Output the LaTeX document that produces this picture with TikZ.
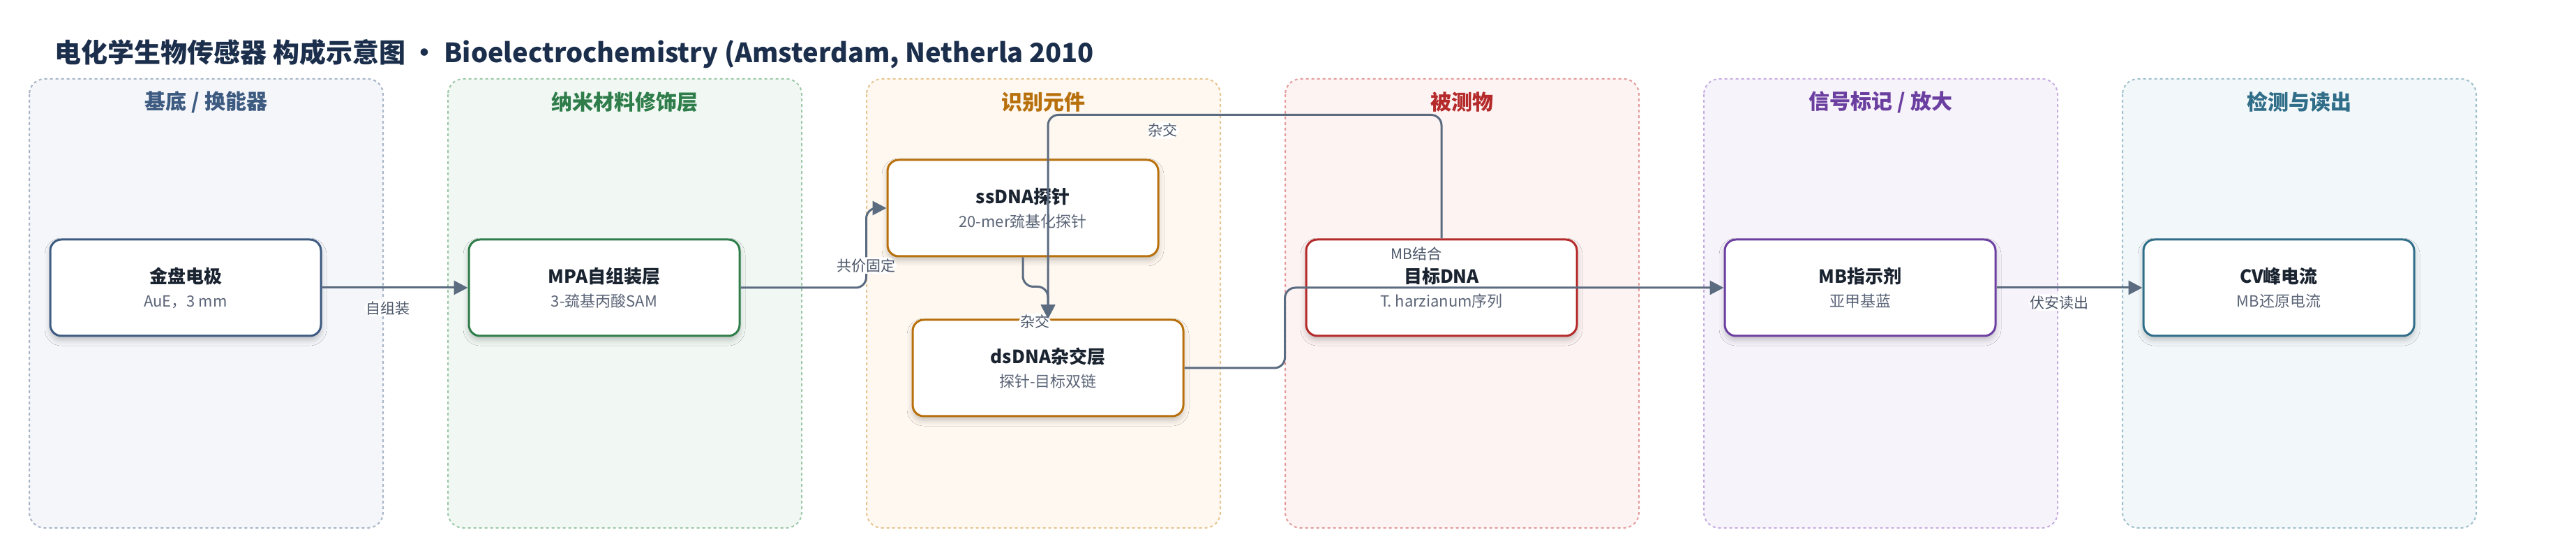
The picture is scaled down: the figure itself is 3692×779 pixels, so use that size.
\documentclass[tikz,border=0pt]{standalone}
\usepackage{fontspec}
\setmainfont{Noto Sans CJK SC}
\usepackage{xcolor}
\usetikzlibrary{arrows.meta,shadows.blur}

\definecolor{titlec}{HTML}{1B2E4B}
\definecolor{nodetext}{HTML}{1A2330}
\definecolor{subtext}{HTML}{5B6577}
\definecolor{lbltext}{HTML}{4A5568}
\definecolor{connc}{HTML}{5B6B80}
\definecolor{laneAfill}{HTML}{F4F6FA}
\definecolor{laneAline}{HTML}{A7B4C6}
\definecolor{laneAhead}{HTML}{3D5A80}
\definecolor{laneBfill}{HTML}{F1F8F3}
\definecolor{laneBline}{HTML}{9CC8A8}
\definecolor{laneBhead}{HTML}{2E7D4A}
\definecolor{laneCfill}{HTML}{FEF8F0}
\definecolor{laneCline}{HTML}{E6C48F}
\definecolor{laneChead}{HTML}{B8700C}
\definecolor{laneDfill}{HTML}{FDF3F3}
\definecolor{laneDline}{HTML}{E49A9A}
\definecolor{laneDhead}{HTML}{B52A2A}
\definecolor{laneEfill}{HTML}{F7F3FB}
\definecolor{laneEline}{HTML}{C6ADE0}
\definecolor{laneEhead}{HTML}{6B3FA0}
\definecolor{laneFfill}{HTML}{F2F7F9}
\definecolor{laneFline}{HTML}{9EC0CC}
\definecolor{laneFhead}{HTML}{2F6D88}

\begin{document}
\begin{tikzpicture}[x=0.5pt,y=-0.5pt,
  lanebox/.style={line width=1pt, dash pattern=on 2pt off 2pt, rounded corners=11pt},
  lanehead/.style={font=\fontsize{15}{18}\selectfont\bfseries},
  box/.style={draw=#1, line width=1.5pt, fill=white, rounded corners=8pt,
    minimum width=194pt, minimum height=69pt, align=center, text=nodetext,
    font=\fontsize{11}{17}\selectfont,
    blur shadow={shadow xshift=0pt, shadow yshift=-3pt, shadow blur radius=4pt, shadow opacity=22}},
  conn/.style={draw=connc, line width=1.5pt, rounded corners=7.5pt, -{Triangle[length=10pt,width=10pt]}},
  lbl/.style={fill=white, text=lbltext, inner sep=1pt, font=\fontsize{10.5}{12}\selectfont}]
\useasboundingbox (0,0) rectangle (3692,779);

\node[anchor=west, inner sep=0pt, text=titlec, font=\fontsize{19}{22}\selectfont\bfseries] (title) at (78,77)
  {电化学生物传感器 构成示意图 · Bioelectrochemistry (Amsterdam, Netherla 2010};

% lanes
\foreach \k/\lname/\lc in {0/{基底 / 换能器}/laneA, 1/纳米材料修饰层/laneB, 2/识别元件/laneC,
  3/被测物/laneD, 4/{信号标记 / 放大}/laneE, 5/检测与读出/laneF}{
  \pgfmathsetmacro{\xa}{42+600*\k}
  \draw[lanebox, draw=\lc line, fill=\lc fill] (\xa,113) rectangle ++(507,643);
  \node[lanehead, text=\lc head] (head\k) at (\xa+253.5,146) {\lname};
}

\node[box=laneAhead] (gold) at (266,412)
  {{\bfseries\fontsize{13}{17}\selectfont 金盘电极}\\{\color{subtext}AuE，3 mm}};
\node[box=laneBhead] (mpa) at (866,412)
  {{\bfseries\fontsize{13}{17}\selectfont MPA自组装层}\\{\color{subtext}3-巯基丙酸SAM}};
\node[box=laneChead] (ssdna) at (1466,298)
  {{\bfseries\fontsize{13}{17}\selectfont ssDNA探针}\\{\color{subtext}20-mer巯基化探针}};
\node[box=laneChead] (dsdna) at (1502,527)
  {{\bfseries\fontsize{13}{17}\selectfont dsDNA杂交层}\\{\color{subtext}探针-目标双链}};
\node[box=laneDhead] (target) at (2066,412)
  {{\bfseries\fontsize{13}{17}\selectfont 目标DNA}\\{\color{subtext}T. harzianum序列}};
\node[box=laneEhead] (mb) at (2666,412)
  {{\bfseries\fontsize{13}{17}\selectfont MB指示剂}\\{\color{subtext}亚甲基蓝}};
\node[box=laneFhead] (cv) at (3266,412)
  {{\bfseries\fontsize{13}{17}\selectfont CV峰电流}\\{\color{subtext}MB还原电流}};

% connectors
\draw[conn] (gold) -- (mpa) node[lbl, pos=0.45, below=8pt] {自组装};
\draw[conn] (mpa.east) -- ++(180,0) |- node[lbl, pos=0.14] {共价固定} (ssdna.west);
\draw[conn] (ssdna.south) -- ++(0,42) -| node[lbl, pos=1, xshift=-9.5pt, yshift=-2pt] {杂交} (dsdna.north);
\draw[conn] (target.north) -- ++(0,-177) -| node[lbl, pos=0.354, below=4.5pt] {杂交} (dsdna.north);
\draw[conn] (dsdna.east) -- ++(144,0) |- node[lbl, pos=0.65, above=17.5pt] {MB结合} (mb.west);
\draw[conn] (mb) -- (cv) node[lbl, pos=0.43, below=4pt] {伏安读出};
\end{tikzpicture}
\end{document}
